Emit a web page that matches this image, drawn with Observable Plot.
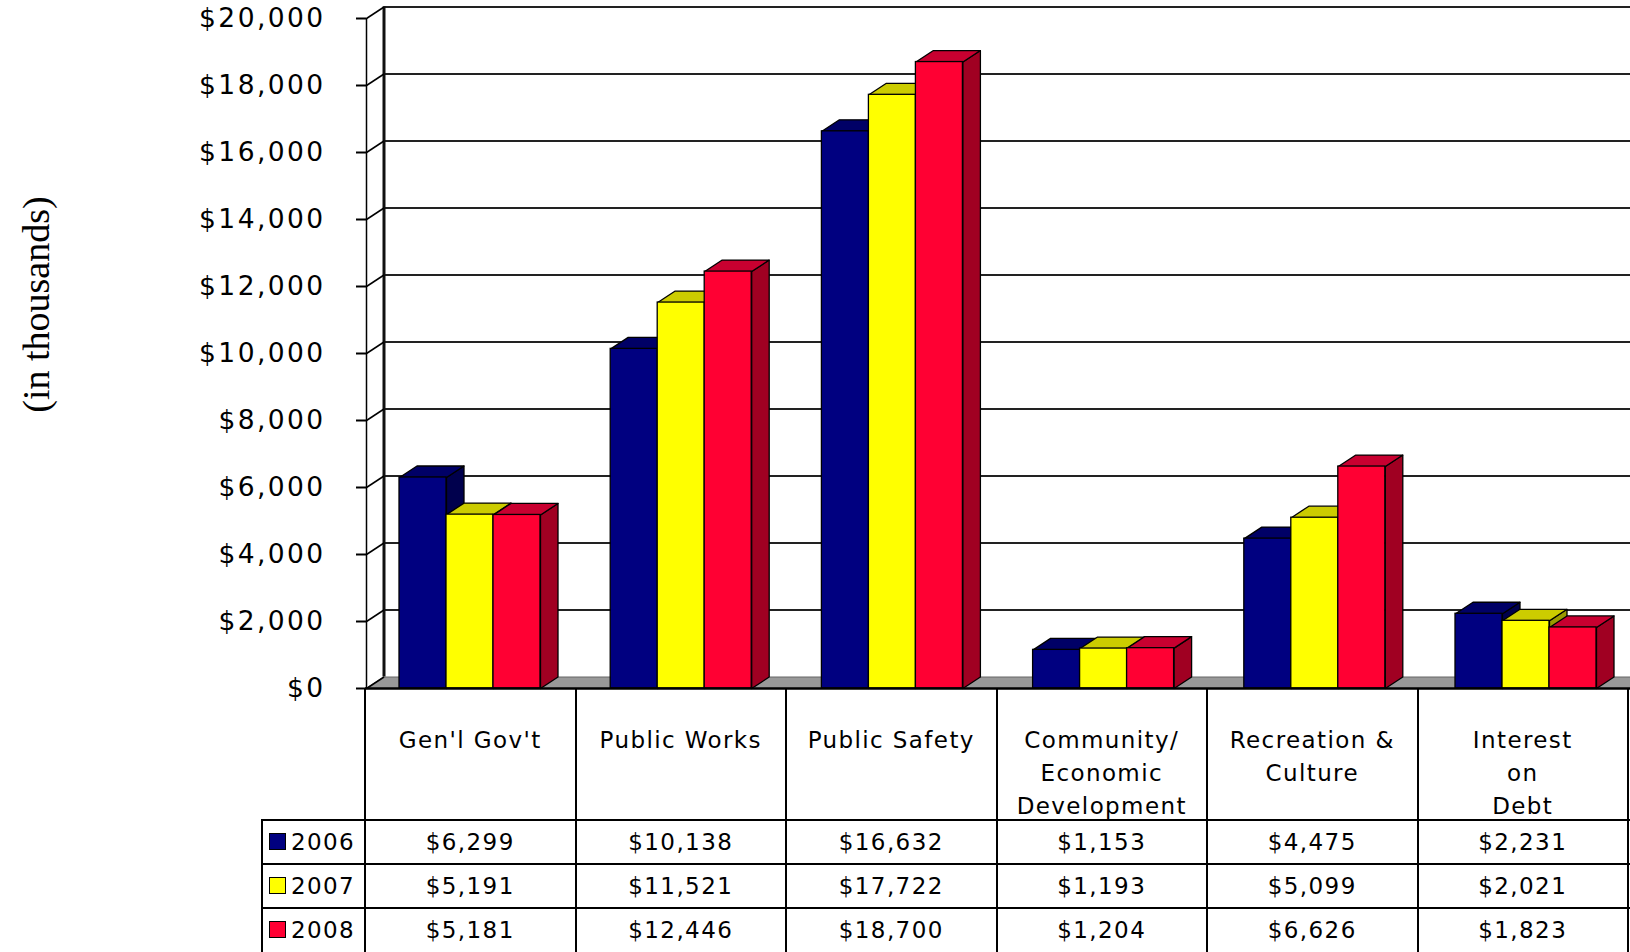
<!DOCTYPE html>
<html><head><meta charset="utf-8">
<script src="https://cdn.jsdelivr.net/npm/d3@7"></script>
<script src="https://cdn.jsdelivr.net/npm/@observablehq/plot@0.6"></script>
<style>
body{margin:0;background:#fff;overflow:hidden}
#wrap{position:relative;width:1630px;height:952px;overflow:hidden;font-family:"DejaVu Sans",Verdana,sans-serif;background:#fff}
#wrap svg{position:absolute;left:0;top:0;overflow:hidden}
#wrap svg g[aria-label="y-axis tick label"] text{letter-spacing:2.4px}
.ln{position:absolute;background:#000}
.txt{position:absolute;text-align:center;color:#000;font-size:23px;letter-spacing:1.4px;white-space:pre}
.sw{position:absolute;width:17px;height:17px;box-sizing:border-box;border:1.5px solid #000}
</style></head><body><div id="wrap"></div>
<script>
// ---- data ----
const categories = ["Gen'l Gov't", "Public Works", "Public Safety", "Community/\nEconomic\nDevelopment", "Recreation &\nCulture", "Interest\non\nDebt"];
const years = ["2006", "2007", "2008"];
const values2006 = [6299, 10138, 16632, 1153, 4475, 2231];
const values2007 = [5191, 11521, 17722, 1193, 5099, 2021];
const values2008 = [5181, 12446, 18700, 1204, 6626, 1823];
const yTicks = [0, 2000, 4000, 6000, 8000, 10000, 12000, 14000, 16000, 18000, 20000];

// ---- styles ----
const frontColors = ["#000080", "#ffff00", "#ff0033"];
const topColors = ["#000066", "#cccc00", "#c80030"];
const sideColors = ["#00004d", "#9a9a00", "#a00022"];

const series = [values2006, values2007, values2008];
const fmt = d => "$" + d3.format(",")(d);

// layout (pixels)
const W = 1630, H = 708;
const catPx = 211.2, x0px = 366, y0px = 688, yTopPx = 18;
const DX = 17.5 / catPx;                       // depth in x units
const DY = 11.5 * 20000 / (y0px - yTopPx);      // depth in y units
const off = 33 / catPx, bw = 47 / catPx;

const marks = [];
// floor
marks.push(Plot.line([{x: 0, y: 0}, {x: 6.5, y: 0}, {x: 6.5 + DX, y: DY}, {x: DX, y: DY}],
  {x: "x", y: "y", fill: "#999999", stroke: "#666", strokeWidth: 1, curve: "linear-closed"}));
// back wall gridlines
marks.push(Plot.ruleY(yTicks.filter(d => d > 0), {y: d => d + DY, x1: () => DX, x2: () => 6.5, stroke: "#222", strokeWidth: 2.2}));
// back wall left edge
marks.push(Plot.ruleX([DX], {y1: DY, y2: 20000 + DY, stroke: "#111", strokeWidth: 3}));
// front left edge
marks.push(Plot.ruleX([0], {y1: 0, y2: 20000, stroke: "#000", strokeWidth: 1.5}));
// diagonal ticks on side wall
marks.push(Plot.link(yTicks, {x1: () => 0, y1: d => d, x2: () => DX, y2: d => d + DY, stroke: "#000", strokeWidth: 1.5}));
// y axis
marks.push(Plot.axisY(yTicks, {anchor: "left", tickSize: 10, tickPadding: 31, strokeWidth: 2, tickFormat: fmt, fontSize: 26.5, label: null}));
// bars
series.forEach((vals, j) => {
  const rows = vals.map((v, i) => {
    const x1 = i + off + j * bw;
    return {i, v, x1, x2: x1 + bw};
  });
  const side = rows.flatMap(r => [
    {z: r.i, x: r.x2, y: 0}, {z: r.i, x: r.x2 + DX, y: DY},
    {z: r.i, x: r.x2 + DX, y: r.v + DY}, {z: r.i, x: r.x2, y: r.v}]);
  const top = rows.flatMap(r => [
    {z: r.i, x: r.x1, y: r.v}, {z: r.i, x: r.x2, y: r.v},
    {z: r.i, x: r.x2 + DX, y: r.v + DY}, {z: r.i, x: r.x1 + DX, y: r.v + DY}]);
  marks.push(Plot.line(side, {x: "x", y: "y", z: "z", fill: sideColors[j], stroke: "#000", strokeWidth: 1.3, curve: "linear-closed", strokeLinejoin: "round"}));
  marks.push(Plot.line(top, {x: "x", y: "y", z: "z", fill: topColors[j], stroke: "#000", strokeWidth: 1.3, curve: "linear-closed", strokeLinejoin: "round"}));
  marks.push(Plot.rect(rows, {x1: "x1", x2: "x2", y1: () => 0, y2: "v", fill: frontColors[j], stroke: "#000", strokeWidth: 1.3}));
});
// baseline (top of table)
marks.push(Plot.ruleY([0], {x1: () => -0.005, x2: () => 6.5, stroke: "#000", strokeWidth: 2.5}));
// y label
marks.push(Plot.text(["(in thousands)"], {frameAnchor: "left", textAnchor: "middle", dx: -330, dy: -49, rotate: -90, fontSize: 38, fontFamily: "Liberation Serif, Times New Roman, serif"}));

const chart = Plot.plot({
  width: W, height: H,
  marginLeft: x0px, marginRight: 0, marginTop: yTopPx, marginBottom: H - y0px,
  style: {fontFamily: "DejaVu Sans, Verdana, sans-serif", fontSize: "26.5px", background: "transparent"},
  x: {type: "linear", domain: [0, 6], range: [x0px, x0px + 6 * catPx], axis: null},
  y: {domain: [0, 20000], range: [y0px, yTopPx], axis: null},
  marks
});
const wrap = document.getElementById("wrap");
wrap.appendChild(chart);

// ---- data table below the chart ----
const colPx = 210.5, tblLeft = 365, legLeft = 262;
const hdrTop = 688, rowTop = 820, rowH = 44;
function line(x, y, w, h) {
  const d = document.createElement("div");
  d.className = "ln";
  Object.assign(d.style, {left: x + "px", top: y + "px", width: w + "px", height: h + "px"});
  wrap.appendChild(d);
}
function text(str, x, y, w, lh) {
  const d = document.createElement("div");
  d.className = "txt";
  d.textContent = str;
  Object.assign(d.style, {left: x + "px", top: y + "px", width: w + "px", lineHeight: lh + "px"});
  wrap.appendChild(d);
  return d;
}
// vertical lines
for (let k = 0; k <= categories.length; k++) {
  line(tblLeft + k * colPx - 1, hdrTop, 2.2, 952 - hdrTop);
}
line(legLeft - 1, rowTop, 2.2, 952 - rowTop);
// horizontal lines
for (let r = 0; r < years.length; r++) {
  line(legLeft - 1, rowTop + r * rowH - 1, W - legLeft + 2, 2.2);
}
// header labels
categories.forEach((c, k) => {
  text(c, tblLeft + k * colPx, 723.5, colPx, 33);
});
// data rows
years.forEach((yr, r) => {
  const top = rowTop + r * rowH;
  const sw = document.createElement("div");
  sw.className = "sw";
  Object.assign(sw.style, {left: "269px", top: (top + 13) + "px", background: frontColors[r]});
  wrap.appendChild(sw);
  const t = text(yr, 291, top, 80, rowH);
  t.style.textAlign = "left";
  series[r].forEach((v, k) => {
    text(fmt(v), tblLeft + k * colPx, top, colPx, rowH);
  });
});
</script></body></html>
